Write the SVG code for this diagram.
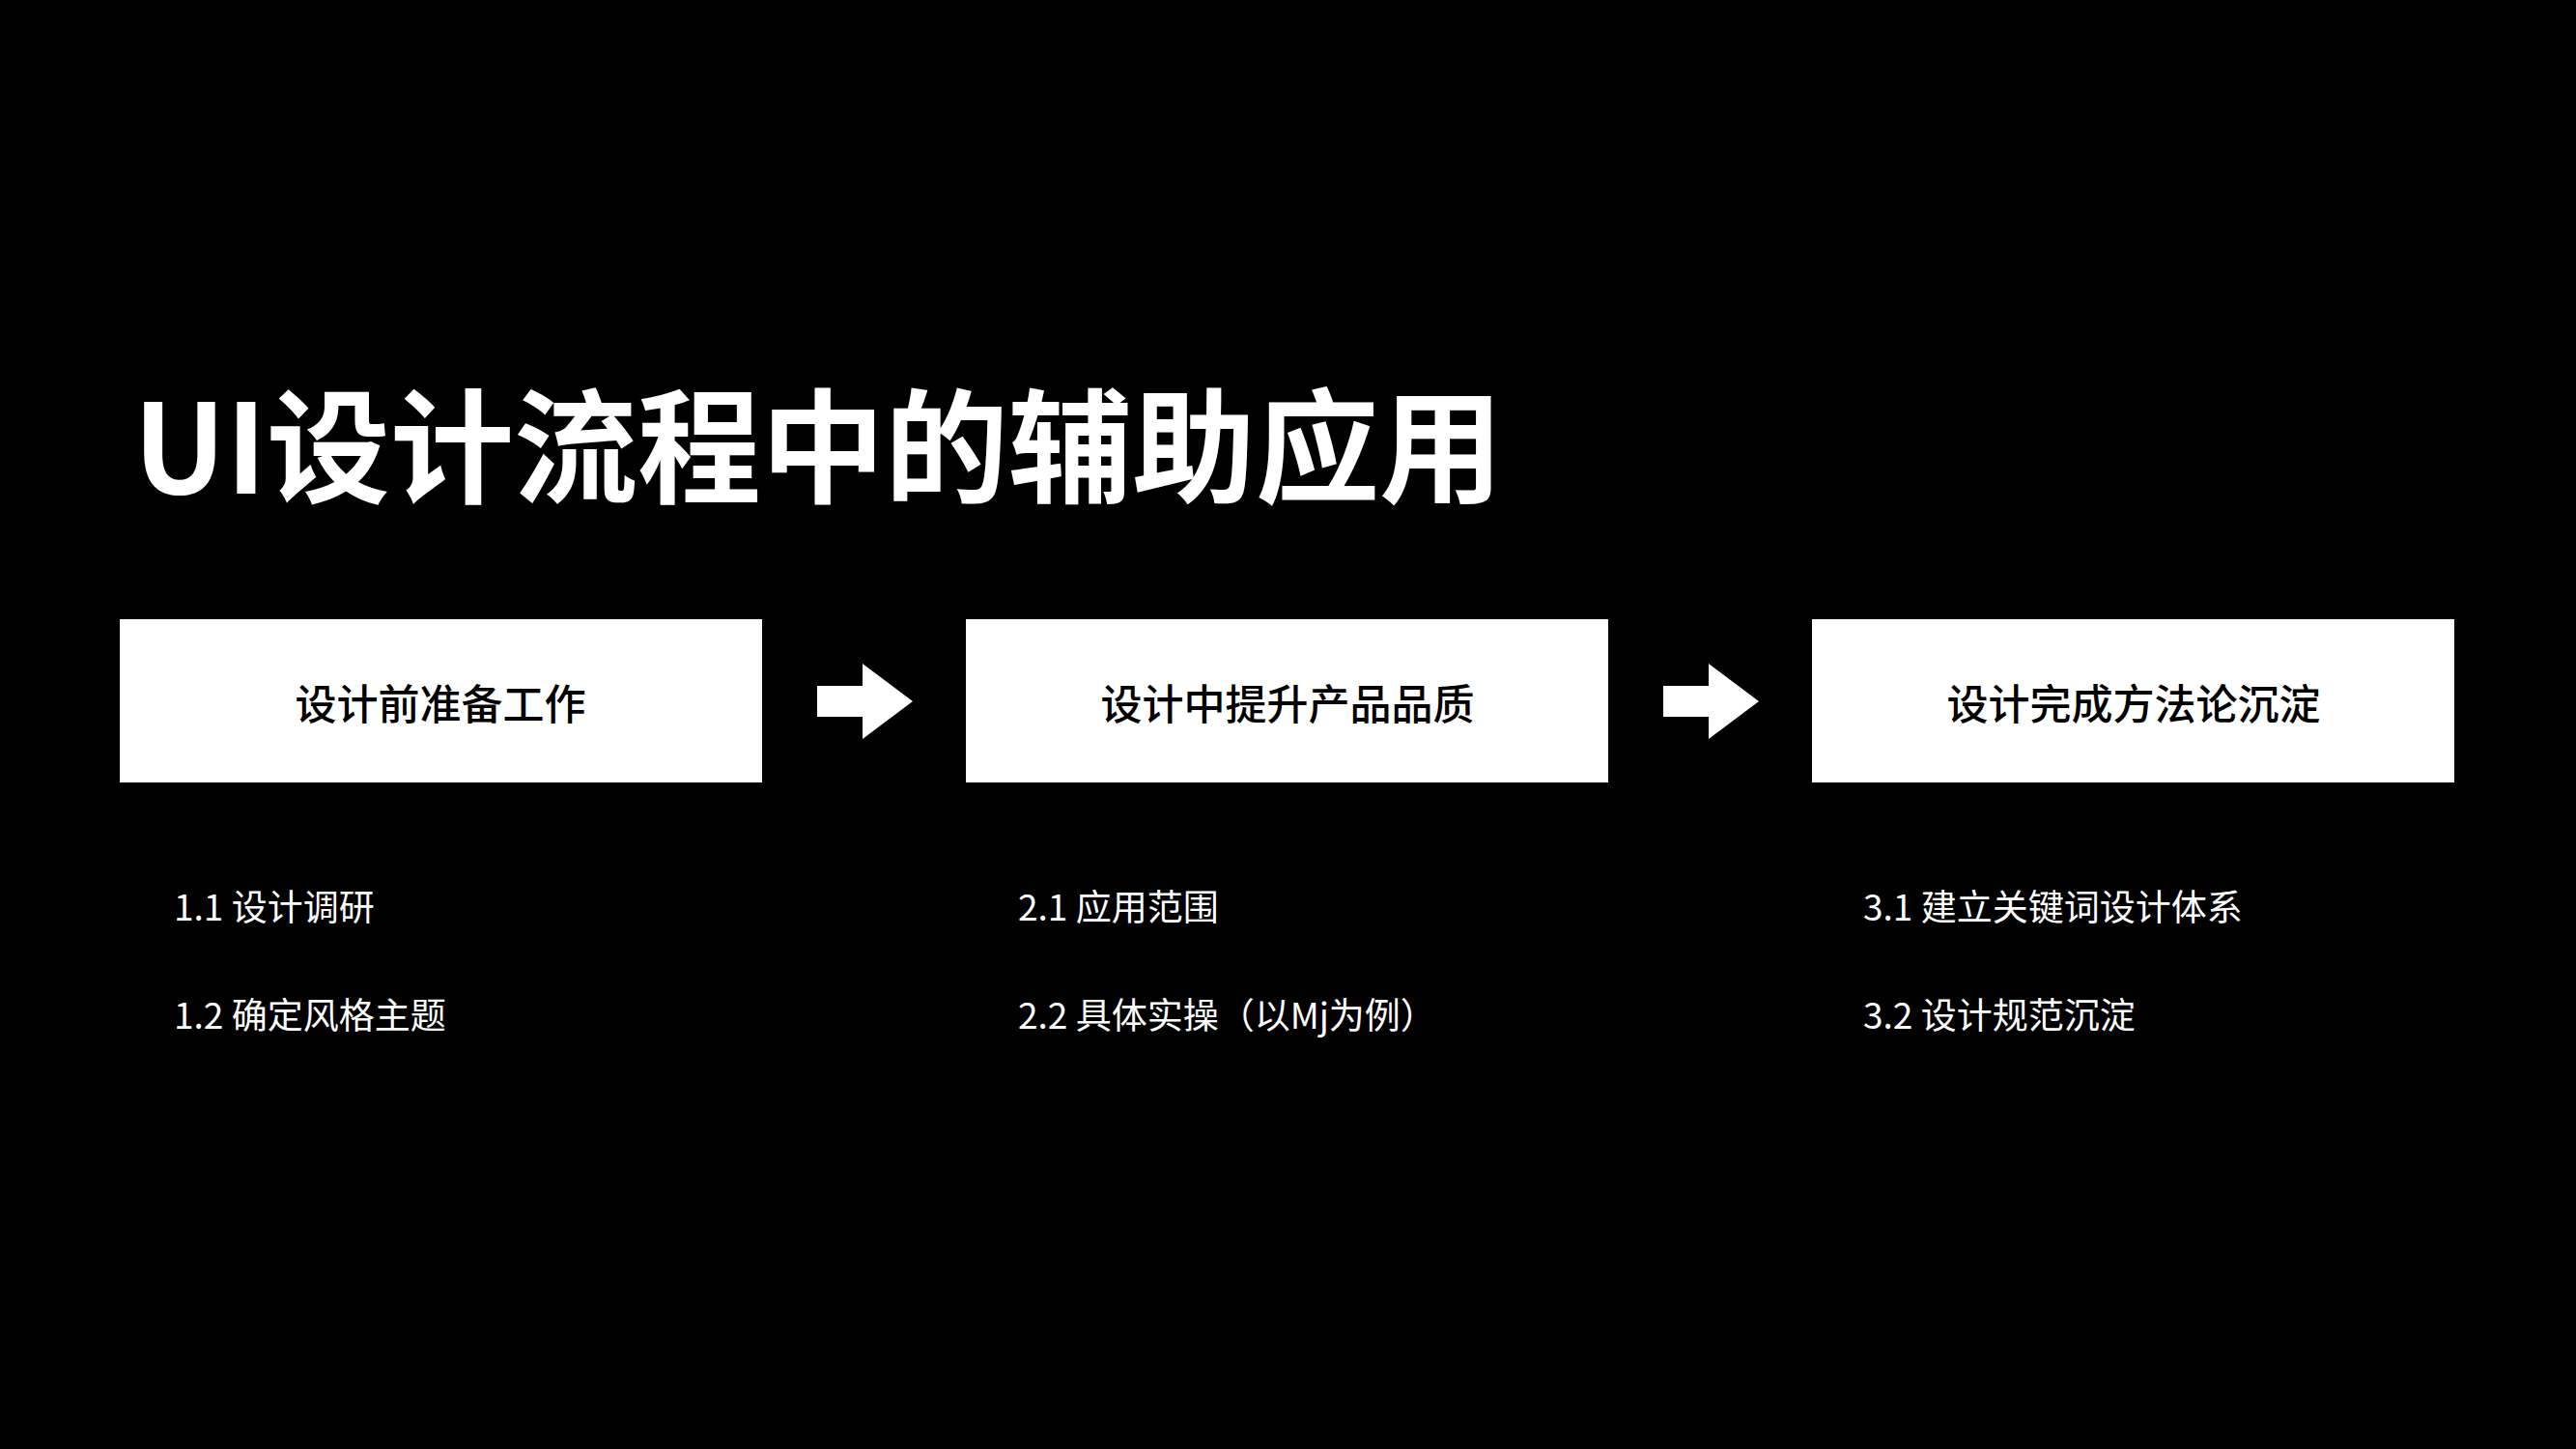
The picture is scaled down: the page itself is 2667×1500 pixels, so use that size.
<svg xmlns="http://www.w3.org/2000/svg" width="2667" height="1500" viewBox="0 0 2667 1500">
<style>
text{font-family:"Noto Sans CJK SC","Noto Sans",sans-serif;fill:#fff}
.box{fill:#fff}
.bt{fill:#000;font-size:43px;font-weight:500;text-anchor:middle;dominant-baseline:central}
.sub{font-size:37px;dominant-baseline:central}
.arr{fill:#fff}
</style>
<rect width="2667" height="1500" fill="#000"/>
<text x="138" y="455" font-size="128" font-weight="700" dominant-baseline="central">UI设计流程中的辅助应用</text>
<g id="node1"><rect class="box" x="124" y="641" width="665" height="169"/><text class="bt" x="456" y="726">设计前准备工作</text></g>
<g id="node2"><rect class="box" x="1000" y="641" width="665" height="169"/><text class="bt" x="1333" y="726">设计中提升产品品质</text></g>
<g id="node3"><rect class="box" x="1876" y="641" width="665" height="169"/><text class="bt" x="2209" y="726">设计完成方法论沉淀</text></g>
<g id="connectors">
<polygon class="arr" points="846,710 893,710 893,687 945,726 893,765 893,742 846,742"/>
<polygon class="arr" points="1722,710 1769,710 1769,687 1821,726 1769,765 1769,742 1722,742"/>
</g>
<g id="list1"><text class="sub" x="180" y="937">1.1 设计调研</text><text class="sub" x="180" y="1049">1.2 确定风格主题</text></g>
<g id="list2"><text class="sub" x="1054" y="937">2.1 应用范围</text><text class="sub" x="1054" y="1049">2.2 具体实操（以Mj为例）</text></g>
<g id="list3"><text class="sub" x="1929" y="937">3.1 建立关键词设计体系</text><text class="sub" x="1929" y="1049">3.2 设计规范沉淀</text></g>
</svg>
